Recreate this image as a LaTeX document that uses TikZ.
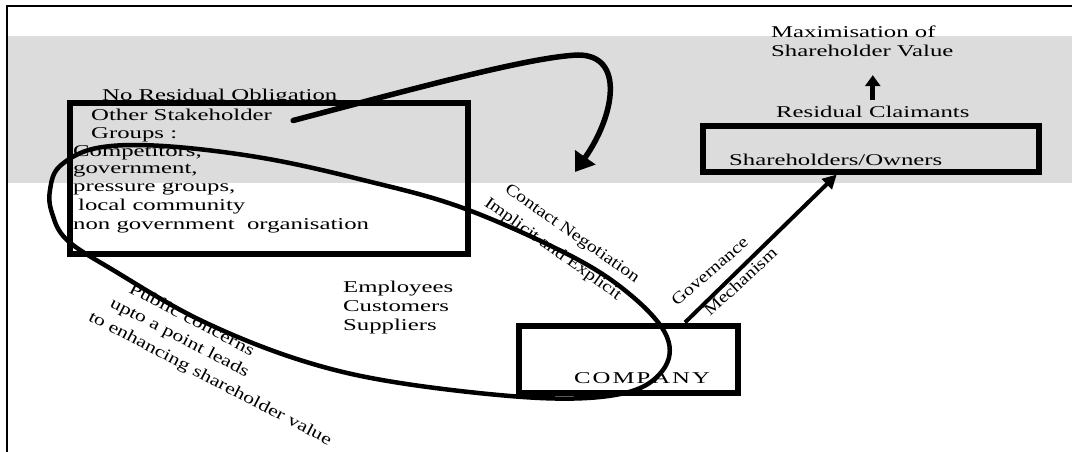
\documentclass[tikz,border=0pt]{standalone}
\usepackage{fontspec}
\setmainfont{Liberation Serif}[FakeStretch=1.5]
\newfontfamily\diagfont{Liberation Serif}[FakeStretch=1.2]
\newfontfamily\widediagfont{Liberation Serif}[FakeStretch=1.32]
\usetikzlibrary{arrows.meta}
\definecolor{bandgrey}{RGB}{220,220,220}

\begin{document}
\begin{tikzpicture}[x=1pt,y=-1pt,
  every node/.style={inner sep=0pt},
  lbl/.style={anchor=base west, font=\fontsize{16.5}{18.7}\selectfont},
  slant/.style={anchor=base west, font=\fontsize{16.5}{18.7}\selectfont\diagfont},
  wideslant/.style={anchor=base west, font=\fontsize{16.5}{18.7}\selectfont\widediagfont},
  framebox/.style={draw, line width=6pt, outer sep=3pt},
  looparrow/.style={line width=5.5pt, line cap=round, -{Triangle[length=18pt,width=24pt]}},
  link/.style={line width=4pt, -{Triangle[length=14pt,width=14pt]}},
  uparrow/.style={line width=5pt, -{Triangle[length=11pt,width=15pt]}},
  ring/.style={line width=4.5pt}
]
\useasboundingbox (0,0) rectangle (1072,452);

% shaded band and the page frame
\fill[bandgrey] (8,36) rectangle (1072,183);
\draw[line width=2pt] (7,452) -- (7,6) -- (1072,6);

% boxes
\node[framebox, minimum width=398.5pt, minimum height=151pt] (others) at (268.75,178.5) {};
\node[framebox, minimum width=336.5pt, minimum height=45.5pt] (owners) at (870.75,148.75) {};
\node[framebox, minimum width=219pt, minimum height=67.5pt] (company) at (628,359.25) {};

% stakeholder group texts
\node[lbl] (noresid) at (102,101) {No Residual Obligation};
\node[lbl] (other) at (91,120.5) {Other Stakeholder};
\node[lbl] (groups) at (91,138.5) {Groups :};
\node[lbl] (rivals) at (73,156) {Competitors,};
\node[lbl] (govt) at (73,173.5) {government,};
\node[lbl] (pressure) at (73,191) {pressure groups,};
\node[lbl] (community) at (78,210) {local community};
\node[lbl] (ngo) at (73,229.5) {non government\ \ organisation};

\node[lbl] (emp) at (343,292.7) {Employees};
\node[lbl] (cust) at (343,311.7) {Customers};
\node[lbl] (supp) at (343,330) {Suppliers};

% owners side
\node[lbl] (maxa) at (771,37.7) {Maximisation of};
\node[lbl] (maxb) at (771,56.7) {Shareholder Value};
\node[lbl] (resid) at (776,117.7) {Residual Claimants};
\node[lbl] (owntxt) at (729,165) {Shareholders/Owners};
\node[lbl] (comptxt) at (574,383) {C\kern2pt O\kern2pt M\kern2pt P\kern2pt A\kern2pt N\kern2pt Y};

% slanted labels
\node[slant, rotate=-35] (contract) at (504,191) {Contact Negotiation};
\node[slant, rotate=-35.5] (implicit) at (483.5,205) {Implicit and Explicit};
\node[slant, rotate=41] (gov) at (677,307) {Governance};
\node[slant, rotate=42.5] (mech) at (710,317) {Mechanism};
\node[wideslant, rotate=-27.5] (pub1) at (128,292) {Public concerns};
\node[wideslant, rotate=-27.5] (pub2) at (109,306) {upto a point leads};
\node[wideslant, rotate=-27.5] (pub3) at (87.4,320) {to enhancing shareholder value};

% connectors
\coordinate (looptip) at (575,172);
\draw[looparrow] ([xshift=21pt]other.base east)
  .. controls (420,87) and (530,57) .. (578,55)
  .. controls (625,55) and (615,115) .. (looptip);
\draw[link] ([xshift=57pt]company.north) -- ([xshift=-34pt]owners.south);
\draw[uparrow, shorten <=6pt, shorten >=18pt] (resid.north) -- (resid.north |- maxb.south);

% loop enclosing the stakeholders and the company
\draw[ring] (50,190)
  .. controls (51.3,182.2) and (52.2,173) .. (60,166)
  .. controls (67.8,159) and (79.8,151.3) .. (97,148)
  .. controls (114.2,144.7) and (135.3,144.3) .. (163,146)
  .. controls (190.7,147.7) and (229.7,152.3) .. (263,158)
  .. controls (296.3,163.7) and (329.7,171.7) .. (363,180)
  .. controls (396.3,188.3) and (428,195.2) .. (463,208)
  .. controls (498,220.8) and (544.7,242.2) .. (573,257)
  .. controls (601.3,271.8) and (617.3,283.7) .. (633,297)
  .. controls (648.7,310.3) and (662,324.8) .. (667,337)
  .. controls (672,349.2) and (670,360.7) .. (663,370)
  .. controls (656,379.3) and (645.5,388.3) .. (625,393)
  .. controls (604.5,397.7) and (577.5,399.7) .. (540,398)
  .. controls (502.5,396.3) and (440,389.3) .. (400,383)
  .. controls (360,376.7) and (333.3,370.5) .. (300,360)
  .. controls (266.7,349.5) and (231.2,335) .. (200,320)
  .. controls (168.8,305) and (135.2,283.3) .. (113,270)
  .. controls (90.8,256.7) and (77.2,249.5) .. (67,240)
  .. controls (56.8,230.5) and (54.8,221.3) .. (52,213)
  .. controls (49.2,204.7) and (48.7,197.8) .. cycle;
\end{tikzpicture}
\end{document}
